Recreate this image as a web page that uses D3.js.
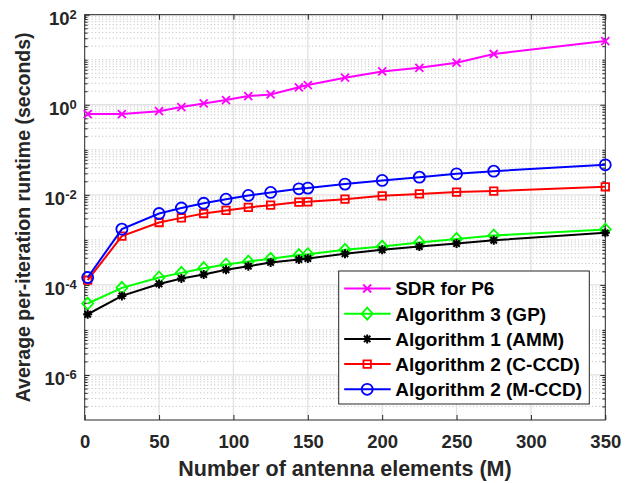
<!DOCTYPE html>
<html>
<head>
<meta charset="utf-8">
<script src="https://cdn.jsdelivr.net/npm/d3@7"></script>
<style>
    body { margin: 0; background: #fff; }
    svg { display: block; font-family: "Liberation Sans", Arial, Helvetica, sans-serif; font-weight: bold; }
</style>
</head>
<body>
<svg id="chart" width="631" height="483"></svg>
<script>
// data
const antennas = [ 2, 25, 50, 65, 80, 95, 110, 125, 144, 150, 175, 200, 225, 250, 275, 350 ]

const sdrP6 = [ 0.62, 0.62, 0.72, 0.89, 1.07, 1.27, 1.56, 1.70, 2.44, 2.74, 4.0, 5.5, 6.6, 8.6, 13.4, 26 ]
const algo3GP = [ 3.86e-5, 8.6e-5, 1.46e-4, 1.85e-4, 2.35e-4, 2.84e-4, 3.3e-4, 3.8e-4, 4.6e-4, 4.8e-4, 6.0e-4, 7.1e-4, 8.75e-4, 1.05e-3, 1.25e-3, 1.70e-3 ]
const algo1AMM = [ 2.23e-5, 5.7e-5, 1.05e-4, 1.39e-4, 1.70e-4, 2.16e-4, 2.6e-4, 3.15e-4, 3.67e-4, 3.86e-4, 4.9e-4, 6.0e-4, 7.1e-4, 8.3e-4, 9.8e-4, 1.43e-3 ]
const algo2CCCD = [ 1.27e-4, 1.21e-3, 2.43e-3, 3.08e-3, 3.85e-3, 4.5e-3, 5.25e-3, 5.9e-3, 6.9e-3, 7.0e-3, 8.0e-3, 9.5e-3, 1.05e-2, 1.15e-2, 1.21e-2, 1.51e-2 ]
const algo2MCCD = [ 1.46e-4, 1.73e-3, 3.85e-3, 5.1e-3, 6.5e-3, 8.0e-3, 9.7e-3, 1.13e-2, 1.36e-2, 1.41e-2, 1.73e-2, 2.09e-2, 2.47e-2, 2.93e-2, 3.36e-2, 4.64e-2 ]

const seriesNames = [ 'SDR for P6', 'Algorithm 3 (GP)', 'Algorithm 1 (AMM)', 'Algorithm 2 (C-CCD)', 'Algorithm 2 (M-CCD)' ]
const xTicks = [ 0, 50, 100, 150, 200, 250, 300, 350 ]
const yTickExponents = [ 2, 0, -2, -4, -6 ]

const seriesValues = [ sdrP6, algo3GP, algo1AMM, algo2CCCD, algo2MCCD ]
const seriesColors = [ '#ff00ff', '#00ff00', '#000000', '#ff0000', '#0000ff' ]
const seriesMarkers = [ 'x', 'diamond', 'asterisk', 'square', 'circle' ]

const axisColor = '#262626'
const margin = { top: 14.7, right: 25.7, bottom: 63, left: 84.7 }
const svg = d3.select( '#chart' )
const width = +svg.attr( 'width' ) - margin.left - margin.right
const height = +svg.attr( 'height' ) - margin.top - margin.bottom

const x = d3.scaleLinear().domain( [ 0, 350 ] ).range( [ 0, width ] )
const y = d3.scaleLog().domain( [ 1e-7, 1e2 ] ).range( [ height, 0 ] )

const g = svg.append( 'g' ).attr( 'transform', `translate( ${margin.left}, ${margin.top} )` )

// log minor positions: 2..9 of every decade, plus the odd decades
const majorY = yTickExponents.map( e => Math.pow( 10, e ) )
const minorY = []
d3.range( -7, 2 ).forEach( e => {
    d3.range( 1, 10 ).forEach( k => {
        const v = k * Math.pow( 10, e )
        if( !majorY.some( m => Math.abs( m - v ) / v < 1e-9 ) && v > 1e-7 ) minorY.push( v )
    } )
} )

// grid
g.append( 'g' ).selectAll( 'line' ).data( minorY ).join( 'line' )
    .attr( 'x1', 0 ).attr( 'x2', width )
    .attr( 'y1', d => y( d ) ).attr( 'y2', d => y( d ) )
    .attr( 'stroke', '#b3b3b3' ).attr( 'stroke-width', 0.9 ).attr( 'stroke-dasharray', '1,2.5' )

g.append( 'g' ).selectAll( 'line' ).data( majorY ).join( 'line' )
    .attr( 'x1', 0 ).attr( 'x2', width )
    .attr( 'y1', d => y( d ) ).attr( 'y2', d => y( d ) )
    .attr( 'stroke', '#e1e1e1' ).attr( 'stroke-width', 1.3 )

g.append( 'g' ).selectAll( 'line' ).data( xTicks.slice( 1, -1 ) ).join( 'line' )
    .attr( 'x1', d => x( d ) ).attr( 'x2', d => x( d ) )
    .attr( 'y1', 0 ).attr( 'y2', height )
    .attr( 'stroke', '#e1e1e1' ).attr( 'stroke-width', 1.3 )

// axes
const styleAxis = sel => {
    sel.select( '.domain' ).remove()
    sel.selectAll( 'line' ).attr( 'stroke', axisColor )
    sel.selectAll( 'text' ).attr( 'fill', axisColor )
}

g.append( 'g' ).attr( 'transform', `translate( 0, ${height} )` )
    .call( d3.axisBottom( x ).tickValues( xTicks ).tickSize( -5 ).tickPadding( 15 ).tickFormat( d3.format( 'd' ) ) )
    .attr( 'font-size', 18.5 ).attr( 'font-family', null )
    .call( styleAxis )

g.append( 'g' )
    .call( d3.axisTop( x ).tickValues( xTicks ).tickSize( -5 ).tickFormat( '' ) )
    .call( styleAxis )

const yLeft = g.append( 'g' )
    .call( d3.axisLeft( y ).tickValues( majorY ).tickSize( -5 ).tickPadding( 8 ) )
    .attr( 'font-size', 18.5 ).attr( 'font-family', null )
    .call( styleAxis )

yLeft.selectAll( 'text' )
    .attr( 'dy', '0.54em' )
    .text( '10' )
    .append( 'tspan' )
    .attr( 'font-size', 13 )
    .attr( 'dy', -6 )
    .text( d => Math.round( Math.log10( d ) ) )

g.append( 'g' ).attr( 'transform', `translate( ${width}, 0 )` )
    .call( d3.axisRight( y ).tickValues( majorY ).tickSize( -5 ).tickFormat( '' ) )
    .call( styleAxis )

g.append( 'g' )
    .call( d3.axisLeft( y ).tickValues( minorY ).tickSize( -3 ).tickFormat( '' ) )
    .call( styleAxis )

g.append( 'g' ).attr( 'transform', `translate( ${width}, 0 )` )
    .call( d3.axisRight( y ).tickValues( minorY ).tickSize( -3 ).tickFormat( '' ) )
    .call( styleAxis )

g.append( 'rect' )
    .attr( 'width', width ).attr( 'height', height )
    .attr( 'fill', 'none' ).attr( 'stroke', axisColor ).attr( 'stroke-width', 1 )

// markers
const markerPath = ( type ) => {
    if( type === 'circle' ) return d3.symbol( d3.symbolCircle, 95 )()
    if( type === 'square' ) return d3.symbol( d3.symbolSquare, 56 )()
    if( type === 'diamond' ) return 'M0,-6L5.5,0L0,6L-5.5,0Z'
    if( type === 'x' ) return 'M-4,-4L4,4M-4,4L4,-4'
    // asterisk: plus + cross
    return 'M-4.5,0L4.5,0M0,-4.5L0,4.5M-3.2,-3.2L3.2,3.2M-3.2,3.2L3.2,-3.2'
}

const line = d3.line().x( d => x( d[0] ) ).y( d => y( d[1] ) )

seriesValues.forEach( ( values, i ) => {
    const pts = antennas.map( ( a, j ) => [ a, values[j] ] )
    const s = g.append( 'g' )

    s.append( 'path' )
        .attr( 'd', line( pts ) )
        .attr( 'fill', 'none' )
        .attr( 'stroke', seriesColors[i] )
        .attr( 'stroke-width', 2 )

    s.selectAll( '.mk' ).data( pts ).join( 'path' )
        .attr( 'class', 'mk' )
        .attr( 'transform', d => `translate( ${x( d[0] )}, ${y( d[1] )} )` )
        .attr( 'd', markerPath( seriesMarkers[i] ) )
        .attr( 'fill', 'none' )
        .attr( 'stroke', seriesColors[i] )
        .attr( 'stroke-width', seriesMarkers[i] === 'asterisk' ? 2 : 1.8 )
} )

// axis labels
svg.append( 'text' )
    .attr( 'x', margin.left + width / 2 ).attr( 'y', 476 )
    .attr( 'text-anchor', 'middle' )
    .attr( 'font-size', 21.5 ).attr( 'fill', axisColor )
    .text( 'Number of antenna elements (M)' )

svg.append( 'text' )
    .attr( 'transform', `translate( 30, ${margin.top + height / 2} ) rotate( -90 )` )
    .attr( 'text-anchor', 'middle' )
    .attr( 'font-size', 19.5 ).attr( 'fill', axisColor )
    .text( 'Average per-iteration runtime (seconds)' )

// legend
const legend = svg.append( 'g' ).attr( 'transform', 'translate( 338.7, 271 )' )

legend.append( 'rect' )
    .attr( 'width', 250.6 ).attr( 'height', 133 )
    .attr( 'fill', '#fff' ).attr( 'stroke', axisColor ).attr( 'stroke-width', 1 )

seriesNames.forEach( ( name, i ) => {
    const row = legend.append( 'g' ).attr( 'transform', `translate( 0, ${17.5 + i * 25.2} )` )

    row.append( 'line' )
        .attr( 'x1', 5.5 ).attr( 'x2', 52 )
        .attr( 'stroke', seriesColors[i] ).attr( 'stroke-width', 2 )

    row.append( 'path' )
        .attr( 'transform', 'translate( 28.5, 0 )' )
        .attr( 'd', markerPath( seriesMarkers[i] ) )
        .attr( 'fill', 'none' )
        .attr( 'stroke', seriesColors[i] )
        .attr( 'stroke-width', seriesMarkers[i] === 'asterisk' ? 2 : 1.8 )

    row.append( 'text' )
        .attr( 'x', 56.5 ).attr( 'dy', '0.36em' )
        .attr( 'font-size', 19 ).attr( 'fill', '#000' )
        .text( name )
} )
</script>
</body>
</html>
